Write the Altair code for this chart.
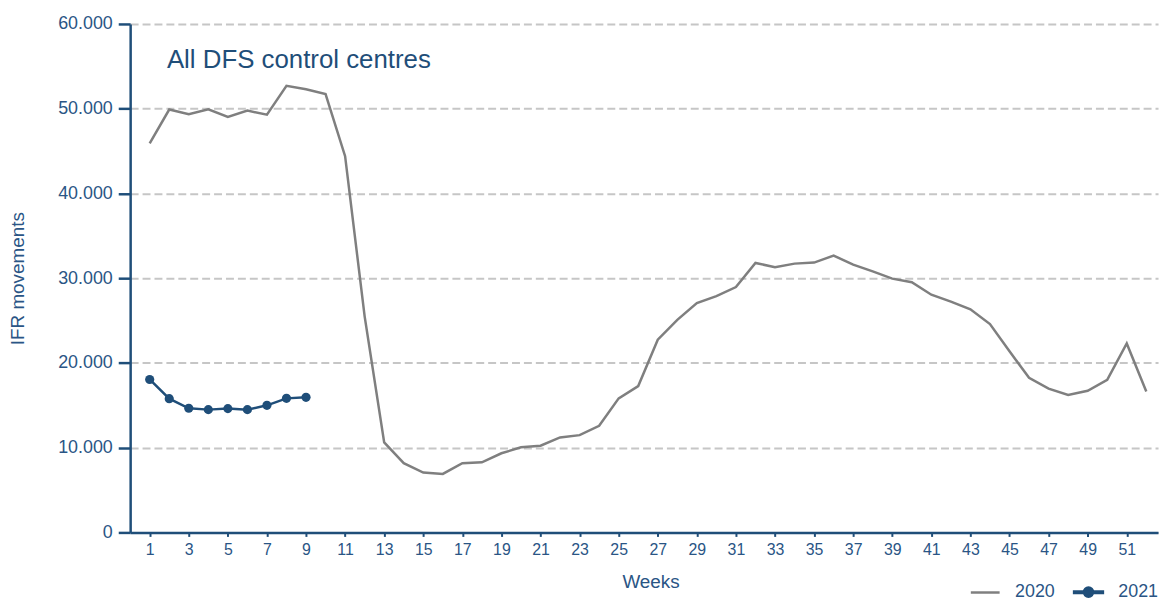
import altair as alt
import pandas as pd

weeks_2020 = list(range(1, 53))
values_2020 = [45900, 49900, 49340, 49920, 49030, 49770, 49300, 52700, 52300, 51720,
               44400, 25500, 10630, 8170, 7070, 6910, 8170, 8280, 9340, 10040,
               10230, 11210, 11480, 12580, 15820, 17270, 22740, 25080, 27070, 27890,
               28950, 31800, 31290, 31720, 31840, 32660, 31600, 30800, 29950, 29530,
               28050, 27230, 26330, 24580, 21370, 18250, 16960, 16210, 16720, 18010,
               22300, 16640]
weeks_2021 = list(range(1, 10))
values_2021 = [18050, 15780, 14650, 14490, 14610, 14490, 15000, 15820, 15940]

years = ["2020", "2021"]
colors = ["#7f7f7f", "#1f4e79"]
y_ticks = [0, 10000, 20000, 30000, 40000, 50000, 60000]

df = pd.DataFrame(
    [{"week": w, "value": v, "year": "2020"} for w, v in zip(weeks_2020, values_2020)]
    + [{"week": w, "value": v, "year": "2021"} for w, v in zip(weeks_2021, values_2021)]
)

FONT = "Liberation Sans"
BLUE = "#1f4e79"
TEXT = "#2a5585"

x_enc = alt.X(
    "week:Q",
    scale=alt.Scale(domain=[0, 52.6], nice=False, zero=False),
    axis=alt.Axis(
        values=list(range(1, 53)),
        labelExpr="datum.value % 2 == 1 ? datum.value : ''",
        title="Weeks",
        titleX=524, titleY=49, titleAlign="center", titleBaseline="middle",
        titleFontSize=19, titleFontWeight="normal", titleColor=TEXT, titleFont=FONT,
        labelFontSize=16, labelColor=TEXT, labelFont=FONT, labelPadding=5,
        tickSize=4, tickColor=BLUE, tickWidth=2,
        domainColor=BLUE, domainWidth=2.5, grid=False, labelFlush=False,
        labelOverlap=False,
    ),
)
y_enc = alt.Y(
    "value:Q",
    scale=alt.Scale(domain=[0, 60000], nice=False),
    axis=alt.Axis(
        values=y_ticks,
        labelExpr="datum.value == 0 ? '0' : replace(format(datum.value, ','), ',', '.')",
        title="IFR movements",
        titleX=-113, titleY=256, titleAngle=270, titleAlign="center", titleBaseline="middle",
        titleFontSize=19, titleFontWeight="normal", titleColor=TEXT, titleFont=FONT,
        labelFontSize=18, labelColor=TEXT, labelFont=FONT, labelPadding=6,
        tickSize=12, tickColor=BLUE, tickWidth=2.5,
        domainColor=BLUE, domainWidth=2.5,
        grid=True, gridColor="#c6c6c6", gridDash=[8, 4], gridWidth=2,
    ),
)

legend_path = ("M-1,-0.05L1,-0.05L1,0.05L-1,0.05Z "
               "M-0.32,0A0.32,0.32 0 1 1 0.32,0A0.32,0.32 0 1 1 -0.32,0Z")

color_enc = alt.Color(
    "year:N",
    scale=alt.Scale(domain=years, range=colors),
    legend=alt.Legend(
        title=None, orient="none", legendX=845, legendY=556, direction="horizontal",
        symbolType={"expr": "datum.value == '2021' ? '" + legend_path + "' : 'stroke'"},
        symbolFillColor={"expr": "datum.value == '2021' ? '" + BLUE + "' : 'transparent'"},
        symbolSize=841, symbolStrokeWidth=2.5,
        labelFontSize=18, labelColor=TEXT, labelFont=FONT, labelOffset=14,
        columnPadding=13,
    ),
)

base = alt.Chart(df)
lines = base.mark_line(strokeWidth=2.5).encode(x=x_enc, y=y_enc, color=color_enc)
points = base.transform_filter("datum.year == '2021'").mark_circle(
    size=85, opacity=1, color=BLUE
).encode(x="week:Q", y="value:Q")

chart = (
    alt.layer(lines, points)
    .properties(
        width=1035, height=512,
        autosize="none",
        padding={"left": 123, "top": 14, "right": 3, "bottom": 69},
        title=alt.TitleParams(
            "All DFS control centres", anchor="start", orient="top", frame="group",
            offset=-79, baseline="alphabetic", dx=37, fontSize=26, fontWeight="normal",
            color=BLUE, font=FONT,
        ),
    )
    .configure_view(stroke=None)
)

chart.save("out.html", embed_options={"renderer": "svg", "actions": False})
